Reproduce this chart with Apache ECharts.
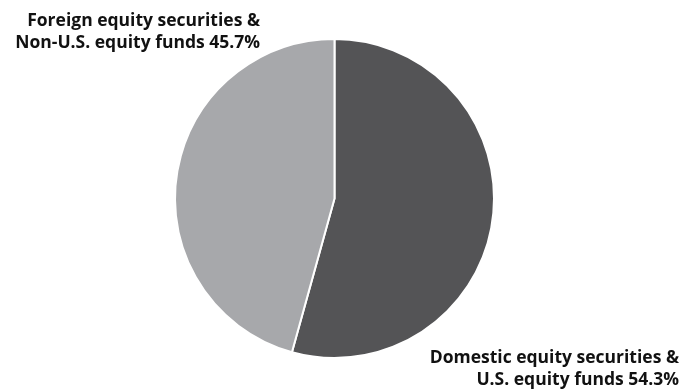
<!DOCTYPE html>
<html>
<head>
<meta charset="utf-8">
<script src="https://cdn.jsdelivr.net/npm/echarts@6/dist/echarts.min.js"></script>
<style>html,body{margin:0;padding:0;background:#fff;}#c{width:684px;height:389px;}</style>
</head>
<body>
<div id="c"></div>
<script>
var categories = ["Domestic equity securities &\nU.S. equity funds", "Foreign equity securities &\nNon-U.S. equity funds"];
var values = [54.3, 45.7];
var colors = ["#545456", "#a7a8ab"];

var chart = echarts.init(document.getElementById('c'), null, {renderer: 'canvas'});
var font = {fontFamily: 'Open Sans', fontWeight: 'bold', fontSize: 17.5, lineHeight: 22, fill: '#111'};
function labelText(i) { return categories[i] + ' ' + values[i].toFixed(1) + '%'; }
chart.setOption({
  animation: false,
  series: [{
    type: 'pie',
    center: [334.5, 198.5],
    radius: [0, 159.5],
    startAngle: 90,
    clockwise: true,
    label: {show: false},
    labelLine: {show: false},
    itemStyle: {borderColor: '#fff', borderWidth: 2},
    data: categories.map(function (c, i) { return {name: c, value: values[i], itemStyle: {color: colors[i]}}; })
  }],
  graphic: [
    {type: 'text', right: 424, top: 10, style: Object.assign({text: labelText(1), textAlign: 'right'}, font)},
    {type: 'text', right: 5, top: 347, style: Object.assign({text: labelText(0), textAlign: 'right'}, font)}
  ]
});
</script>
</body>
</html>
